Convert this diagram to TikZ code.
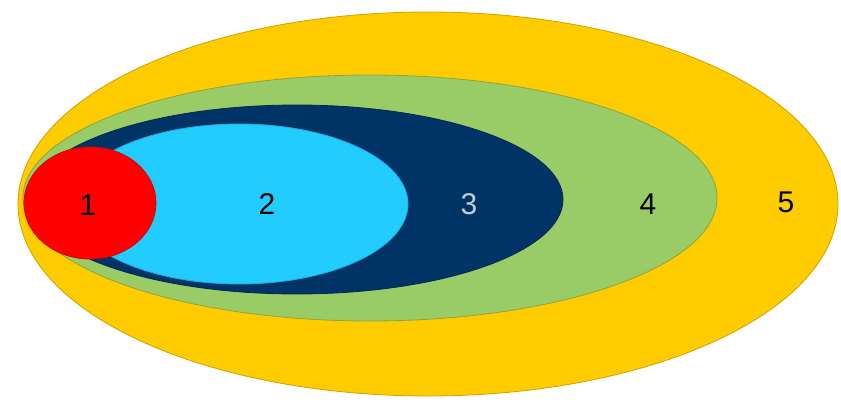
\documentclass[tikz,border=0pt]{standalone}
\usepackage{fontspec}
\setmainfont{Liberation Sans}
\usetikzlibrary{shapes.geometric}
\definecolor{cYellow}{HTML}{FFCC00}
\definecolor{cGreen}{HTML}{99CC66}
\definecolor{cNavy}{HTML}{003366}
\definecolor{cCyan}{HTML}{22CCFF}
\definecolor{cRed}{HTML}{FF0000}
\begin{document}
\begin{tikzpicture}[x=1pt,y=-1pt,
  zone/.style={ellipse, inner sep=0pt, line width=0.8pt},
  digit/.style={font=\fontsize{30}{36}\selectfont, text=black}]
\useasboundingbox (0,0) rectangle (841,404);
\fill[white] (0,0) rectangle (841,404);
\node[zone, fill=cYellow, draw=cYellow!80!black, minimum width=820pt, minimum height=384pt] (z5) at (428,204) {};
\node[zone, fill=cGreen, draw=cGreen!70!cYellow!80!black, minimum width=694pt, minimum height=246pt] (z4) at (370,198) {};
\node[zone, fill=cNavy, draw=cNavy!80!black, minimum width=533pt, minimum height=189pt] (z3) at (296.5,199.5) {};
\node[zone, fill=cCyan, draw=cCyan!85!black, minimum width=338pt, minimum height=160pt] (z2) at (239,204) {};
\node[zone, fill=cRed, draw=cRed!85!black, minimum width=132pt, minimum height=112pt] (z1) at (90,203) {};
\node[digit] (n1) at (88,205) {1};
\node[digit] (n2) at (267,204) {2};
\node[digit, text=white!75!cNavy] (n3) at (469,204) {3};
\node[digit] (n4) at (648,204) {4};
\node[digit] (n5) at (786,202) {5};
\end{tikzpicture}
\end{document}
